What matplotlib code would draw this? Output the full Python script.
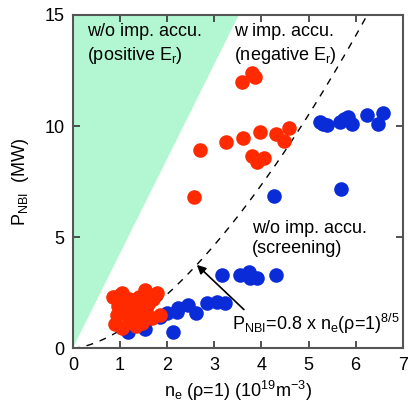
import numpy as np
import matplotlib.pyplot as plt

plt.rcParams['font.family'] = ['Liberation Sans', 'DejaVu Sans']
plt.rcParams['mathtext.default'] = 'regular'

# points with impurity accumulation (red)
red_ne = [3.58, 3.79, 3.86,
          2.69, 3.24, 3.60, 3.98, 4.30, 4.47, 4.58, 3.79, 3.90, 4.05, 2.58,
          1.00, 1.53, 1.78, 0.93, 1.04, 1.46, 1.67, 1.31, 0.90, 1.10, 1.20,
          1.25, 1.40, 1.60, 1.70, 0.85, 1.15, 1.35, 1.55, 1.05, 0.95, 1.20,
          1.85, 1.50, 1.30]
red_p = [12.0, 12.4, 12.2,
         8.92, 9.28, 9.46, 9.73, 9.64, 9.32, 9.90, 8.65, 8.38, 8.56, 6.80,
         2.39, 2.61, 2.48, 1.49, 0.90, 1.13, 1.35, 1.80, 1.10, 2.00, 2.20,
         1.40, 2.30, 2.00, 2.20, 2.30, 1.60, 1.00, 1.70, 2.50, 1.90, 1.20,
         1.50, 1.40, 2.10]

# points without impurity accumulation, screening (blue)
blue_ne = [1.17, 1.53, 2.12, 1.84, 2.00, 2.22, 2.44, 2.62, 2.84, 3.05, 3.22,
           3.16, 3.54, 3.73, 3.75, 3.90, 4.32, 2.20,
           4.26, 5.68,
           5.30, 5.40, 5.66, 5.83, 5.93, 6.25, 6.57, 6.48, 5.25, 5.75]
blue_p = [0.72, 0.85, 0.72, 1.40, 1.60, 1.80, 1.94, 1.58, 2.03, 2.07, 2.03,
          3.29, 3.29, 3.42, 3.15, 3.15, 3.29, 1.62,
          6.85, 7.16,
          10.1, 10.05, 10.2, 10.4, 10.1, 10.5, 10.6, 10.1, 10.2, 10.3]

# scaling law P = 0.8 * n^(8/5)
coef = 0.8
expo = 8 / 5
n_fit = np.linspace(0, 7, 300)
p_fit = coef * n_fit ** expo

# boundary of the positive Er region
border_ne = [0, 3.52]
border_p = [0, 15]

fig = plt.figure(figsize=(4.14, 4.15), dpi=100)
ax = fig.add_axes([0.176, 0.161, 0.797, 0.803])

ax.fill([border_ne[0], border_ne[1], 0], [border_p[0], border_p[1], 15],
        color='#b3f7d2', lw=0, zorder=0)
ax.plot(n_fit, p_fit, color='black', ls=(0, (5, 5)), lw=1.0, zorder=1)
ax.scatter(blue_ne, blue_p, s=110, color='#0a2cd8', lw=0, zorder=2)
ax.scatter(red_ne, red_p, s=110, color='#ff2a00', lw=0, zorder=3)

ax.set_xlim(0, 7)
ax.set_ylim(0, 15)
ax.set_xticks(range(0, 8))
ax.set_yticks([0, 5, 10, 15])
ax.tick_params(direction='in', length=5, width=1.2, top=True, right=True,
               labelsize=13, color='#333333', pad=6)
for s in ax.spines.values():
    s.set_color('#555555')
    s.set_linewidth(1.5)

ax.set_xlabel(r'$n_e$ ($\rho$=1) ($10^{19}m^{-3}$)', fontsize=13, labelpad=4)
ax.set_ylabel(r'$P_{NBI}$  (MW)', fontsize=13, labelpad=10)

fs = 13
ax.text(0.3, 14.05, 'w/o imp. accu.', fontsize=fs)
ax.text(0.3, 12.95, r'(positive $E_r$)', fontsize=fs)
ax.text(3.41, 14.05, 'w imp. accu.', fontsize=fs)
ax.text(3.41, 12.95, r'(negative $E_r$)', fontsize=fs)
ax.text(3.8, 5.2, 'w/o imp. accu.', fontsize=fs)
ax.text(3.8, 4.3, '(screening)', fontsize=fs)

ax.annotate(r'$P_{NBI}$=0.8 x $n_e$($\rho$=1)$^{8/5}$', xy=(2.63, 3.75),
            xytext=(3.37, 0.8), fontsize=fs,
            arrowprops=dict(arrowstyle='-|>', color='black', lw=1.2,
                            shrinkA=0, shrinkB=0,
                            relpos=(0.09, 1.0)))

fig.savefig('out.png', dpi=100)
